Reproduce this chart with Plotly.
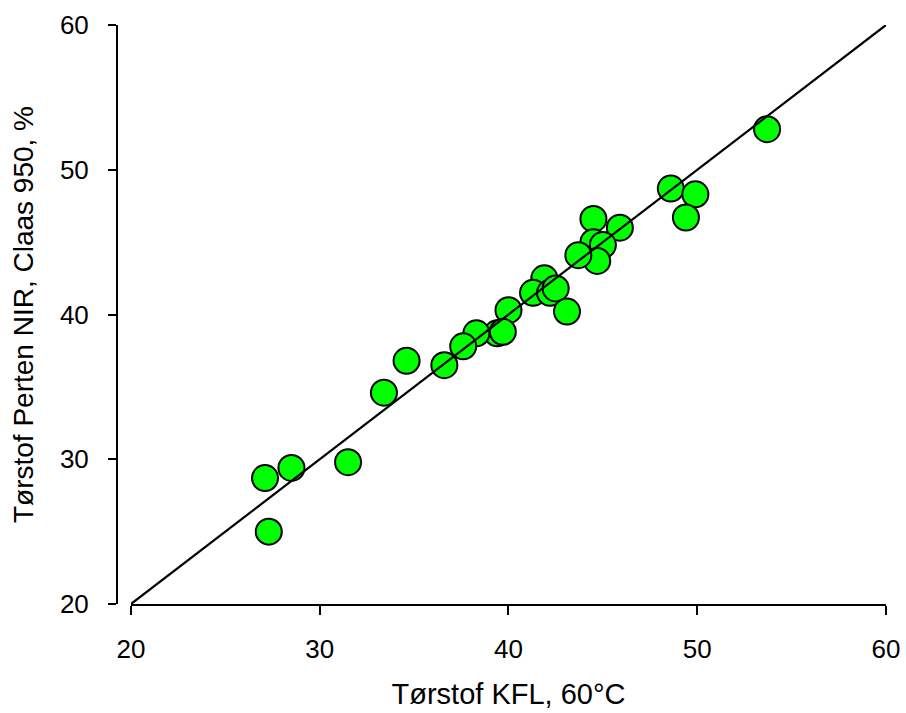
import plotly.graph_objects as go

# Data
kfl = [53.7, 48.6, 49.9, 49.4, 44.5, 45.9, 44.5, 45.0, 44.7, 43.7,
       41.9, 41.3, 42.2, 42.5, 43.1, 40.0, 39.4, 39.7, 38.3, 37.6,
       36.6, 34.6, 33.4, 31.5, 28.5, 27.1, 27.3]
nir = [52.8, 48.7, 48.3, 46.7, 46.6, 46.0, 45.0, 44.8, 43.7, 44.1,
       42.5, 41.5, 41.5, 41.8, 40.2, 40.3, 38.7, 38.8, 38.7, 37.8,
       36.5, 36.8, 34.6, 29.8, 29.4, 28.7, 25.0]
line_x = [20, 60]
line_y = [20, 60]
x_ticks = [20, 30, 40, 50, 60]
y_ticks = [20, 30, 40, 50, 60]

FONT = "Liberation Sans, Arial, sans-serif"

fig = go.Figure()
fig.add_trace(go.Scatter(
    x=kfl, y=nir, mode="markers",
    marker=dict(size=26, color="#00ff00", line=dict(color="black", width=2)),
    cliponaxis=False, showlegend=False,
))
fig.add_trace(go.Scatter(
    x=line_x, y=line_y, mode="lines",
    line=dict(color="black", width=2.2),
    cliponaxis=False, showlegend=False,
))

fig.add_annotation(x=60.9, y=57.2, xref="x", yref="y", text="y = x",
                   showarrow=False, xanchor="right", yanchor="middle",
                   font=dict(family=FONT, size=17, color="black"))

fig.update_layout(
    width=906, height=713,
    margin=dict(l=117, r=20, t=25, b=109, autoexpand=False),
    paper_bgcolor="white", plot_bgcolor="white",
    font=dict(family=FONT, color="black"),
    xaxis=dict(
        domain=[0.0182, 1], range=[20, 60], tickvals=x_ticks,
        showline=True, linewidth=2, linecolor="black",
        ticks="outside", ticklen=9, tickwidth=2, tickcolor="black",
        showgrid=False, zeroline=False, automargin=False,
        tickfont=dict(size=26), ticklabelstandoff=12,
        title=dict(text="Tørstof KFL, 60°C", font=dict(size=29), standoff=20),
    ),
    yaxis=dict(
        anchor="free", position=0, range=[20, 60], tickvals=y_ticks,
        showline=True, linewidth=2, linecolor="black",
        ticks="outside", ticklen=8, tickwidth=2, tickcolor="black",
        showgrid=False, zeroline=False, automargin=False,
        tickfont=dict(size=26), ticklabelstandoff=14,
        title=dict(text="Tørstof Perten NIR, Claas 950, %", font=dict(size=28), standoff=17),
    ),
)

fig.write_html("out.html", config={"displayModeBar": False},
               post_script="document.body.style.margin='0';")
